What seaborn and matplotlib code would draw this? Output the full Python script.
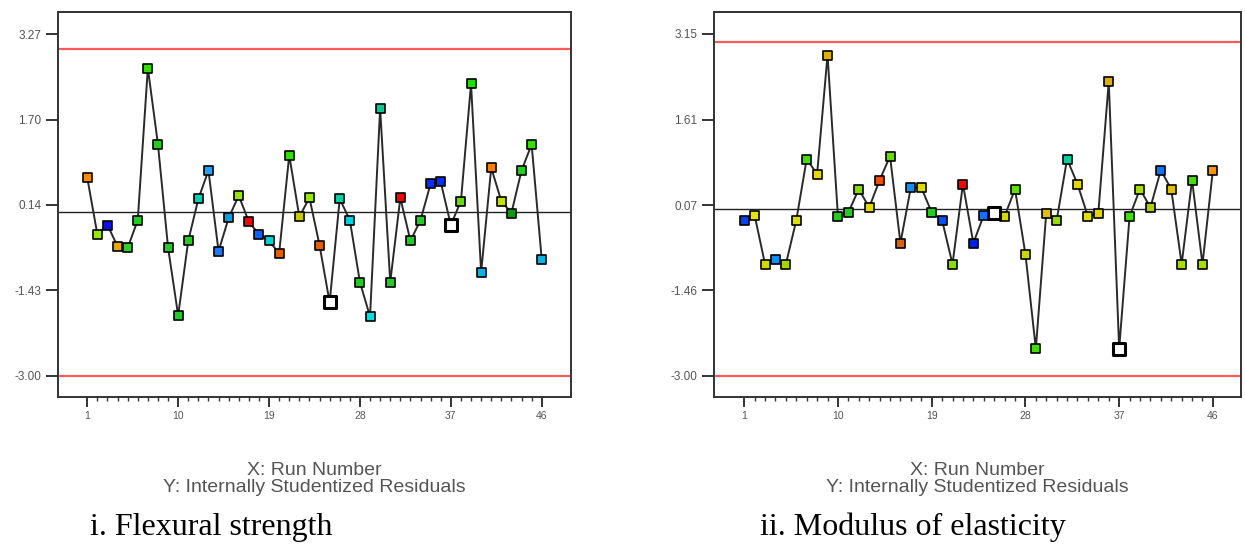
import numpy as np
import pandas as pd
import matplotlib
matplotlib.use("Agg")
import matplotlib.pyplot as plt
from matplotlib.ticker import FixedLocator
import seaborn as sns

sns.set_style("white")
plt.rcParams['font.family'] = ['Liberation Sans', 'DejaVu Sans']

# run numbers 1..46
runs = list(range(1, 47))

# i. Flexural strength - internally studentized residuals
flex_resid = [0.64, -0.40, -0.23, -0.62, -0.65, -0.14, 2.65, 1.25, -0.64, -1.89,
              -0.52, 0.25, 0.77, -0.71, -0.10, 0.31, -0.17, -0.40, -0.52, -0.75,
              1.05, -0.08, 0.27, -0.60, -1.65, 0.25, -0.14, -1.28, -1.91, 1.91,
              -1.28, 0.27, -0.52, -0.14, 0.53, 0.56, -0.23, 0.21, 2.36, -1.10,
              0.82, 0.21, -0.01, 0.77, 1.25, -0.86]
flex_colors = ['#ff8c00', '#99e600', '#1010e0', '#e6a800', '#33cc33', '#22cc22',
               '#33dd00', '#22cc22', '#22cc22', '#22cc22', '#22cc22', '#00d0b0',
               '#20a0ff', '#1e78ff', '#00a0e0', '#99e600', '#ff0000', '#1060ff',
               '#00d0d0', '#e06000', '#33dd00', '#c8c800', '#99e600', '#e06000',
               '#ffffff', '#00d0a0', '#00d0e0', '#22cc22', '#00e0e0', '#00c890',
               '#22cc22', '#ff0000', '#22cc22', '#22cc22', '#0030ff', '#0030ff',
               '#ffffff', '#66dd00', '#22dd00', '#10b0e0', '#ff8000', '#c8e000',
               '#109910', '#22cc22', '#33dd00', '#10b0e0']
flex_yticks = [-3.00, -1.43, 0.14, 1.70, 3.27]

# ii. Modulus of elasticity - internally studentized residuals
mod_resid = [-0.20, -0.11, -0.99, -0.90, -0.99, -0.20, 0.90, 0.63, 2.77, -0.13,
             -0.06, 0.36, 0.03, 0.52, 0.95, -0.61, 0.39, 0.39, -0.06, -0.20,
             -0.99, 0.45, -0.61, -0.11, -0.07, -0.13, 0.36, -0.81, -2.51, -0.07,
             -0.20, 0.90, 0.45, -0.13, -0.07, 2.29, -2.51, -0.13, 0.36, 0.03,
             0.70, 0.36, -0.99, 0.52, -0.99, 0.70]
mod_colors = ['#0040ff', '#e6e600', '#d8d800', '#1090ff', '#b0d000', '#e0e000',
              '#44dd00', '#e0d800', '#e0b000', '#22cc22', '#22cc22', '#88dd00',
              '#e0d800', '#f05000', '#66dd00', '#e06000', '#1090ff', '#e0d800',
              '#22cc22', '#0050ff', '#88dd00', '#ff0000', '#0020e0', '#1070ff',
              '#ffffff', '#d8d800', '#66dd00', '#c8d800', '#44dd00', '#e0c000',
              '#99dd00', '#00d0a0', '#e0d800', '#e0e000', '#e0d800', '#e0b000',
              '#ffffff', '#44dd00', '#aadd00', '#aad000', '#1070ff', '#e0c000',
              '#aadd00', '#44dd00', '#aadd00', '#ff9000']
mod_yticks = [-3.00, -1.46, 0.07, 1.61, 3.15]

limit = 3.0


def draw_panel(ax, resid, colors, yticks, ylim, xlim):
    df = pd.DataFrame({"run": runs, "resid": resid})
    ax.axhline(limit, color='#ff5a5a', lw=1.6, zorder=1)
    ax.axhline(-limit, color='#ff5a5a', lw=1.6, zorder=1)
    ax.axhline(0, color='#222222', lw=1.0, zorder=1)
    sns.lineplot(data=df, x="run", y="resid", color='#2a2a2a', lw=1.4, ax=ax, zorder=2)
    normal = df[[c != '#ffffff' for c in colors]]
    sns.scatterplot(data=normal, x="run", y="resid", hue="run",
                    palette=[c for c in colors if c != '#ffffff'],
                    marker='s', s=42, edgecolor='black', linewidth=1.2,
                    legend=False, ax=ax, zorder=3)
    white = df[[c == '#ffffff' for c in colors]]
    sns.scatterplot(data=white, x="run", y="resid", color='white', marker='s',
                    s=70, edgecolor='black', linewidth=2.2, legend=False, ax=ax, zorder=4)

    ax.set_xlim(*xlim)
    ax.set_ylim(*ylim)
    ax.set_yticks(yticks)
    ax.set_yticklabels(["%.2f" % v for v in yticks])
    ax.set_xticks([1, 10, 19, 28, 37, 46])
    ax.xaxis.set_minor_locator(FixedLocator(runs))
    ax.tick_params(axis='y', which='major', direction='out', length=9, width=1.4,
                   color='#333333', labelsize=8.5, labelcolor='#555555', left=True, pad=3)
    ax.tick_params(axis='x', which='major', direction='out', length=7, width=1.4,
                   color='#333333', labelsize=7.5, labelcolor='#555555', bottom=True, pad=3)
    ax.tick_params(axis='x', which='minor', direction='out', length=3, width=1.0,
                   color='#333333', bottom=True)
    ax.set_xlabel("")
    ax.set_ylabel("")
    for sp in ax.spines.values():
        sp.set_color('#333333')
        sp.set_linewidth(1.4)
    ax.grid(False)


fig = plt.figure(figsize=(12.45, 5.45), dpi=100)
ax1 = fig.add_axes([0.0468, 0.2716, 0.4116, 0.7059])
ax2 = fig.add_axes([0.5735, 0.2716, 0.4233, 0.7059])

draw_panel(ax1, flex_resid, flex_colors, flex_yticks, (-3.385, 3.674), (-1.87, 48.87))
draw_panel(ax2, mod_resid, mod_colors, mod_yticks, (-3.378, 3.54), (-1.9, 48.7))

for ax in (ax1, ax2):
    pos = ax.get_position()
    cx = (pos.x0 + pos.x1) / 2
    fig.text(cx, 0.1376, "X: Run Number", ha='center', va='center',
             fontsize=14, color='#555555')
    fig.text(cx, 0.1046, "Y: Internally Studentized Residuals", ha='center',
             va='center', fontsize=14, color='#555555')

fig.text(0.170, 0.033, "i. Flexural strength", ha='center', va='center',
         fontsize=23, family=['Liberation Serif', 'DejaVu Serif'], color='black')
fig.text(0.733, 0.033, "ii. Modulus of elasticity", ha='center', va='center',
         fontsize=23, family=['Liberation Serif', 'DejaVu Serif'], color='black')

fig.savefig("out.png", dpi=100)
